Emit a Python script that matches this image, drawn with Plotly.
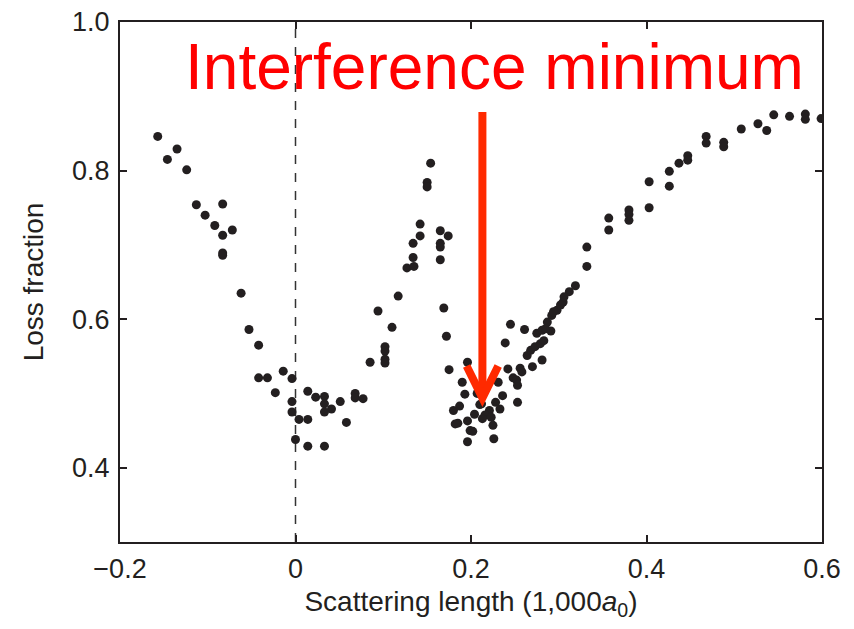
import plotly.graph_objects as go

# Scattering length (units of 1,000 a0)
scattering_length = [
    -0.157, -0.135, -0.146, -0.124, -0.113, -0.083, -0.103, -0.092, -0.072, -0.083,
    -0.083, -0.083, -0.062, -0.053, -0.042, -0.042, -0.032, -0.014, -0.004, -0.023,
    0.014, 0.023, 0.033, 0.033, 0.033, 0.041, 0.051, 0.068, 0.068, 0.077,
    -0.004, -0.004, 0.004, 0.014, 0.058, 0.000, 0.014, 0.033,
    0.094, 0.110, 0.102, 0.102, 0.102, 0.102, 0.085, 0.117, 0.154, 0.150,
    0.150, 0.142, 0.142, 0.134, 0.134, 0.127, 0.135, 0.165, 0.174, 0.165,
    0.165, 0.165, 0.169,
    0.172, 0.175, 0.196, 0.190, 0.193, 0.207, 0.231, 0.236, 0.228, 0.233,
    0.210, 0.180, 0.187, 0.221, 0.216, 0.223, 0.204, 0.213, 0.225, 0.182,
    0.185, 0.196, 0.199, 0.202, 0.196, 0.226, 0.242, 0.245, 0.239, 0.261,
    0.253, 0.248, 0.252, 0.253, 0.256, 0.258, 0.270, 0.281, 0.264, 0.268,
    0.273, 0.279, 0.283, 0.275, 0.281, 0.291, 0.287, 0.292, 0.298, 0.302,
    0.305, 0.312, 0.306, 0.294, 0.285, 0.212,
    0.319, 0.332, 0.332, 0.357, 0.357, 0.380, 0.380, 0.380, 0.403, 0.403,
    0.426, 0.426, 0.437, 0.447, 0.447, 0.468, 0.468, 0.488, 0.488, 0.508,
    0.527, 0.537, 0.545, 0.563, 0.581, 0.581, 0.599,
]

loss_fraction = [
    0.846, 0.829, 0.815, 0.801, 0.754, 0.755, 0.740, 0.726, 0.720, 0.713,
    0.689, 0.686, 0.635, 0.586, 0.565, 0.521, 0.521, 0.530, 0.520, 0.501,
    0.503, 0.495, 0.496, 0.486, 0.475, 0.479, 0.489, 0.500, 0.494, 0.493,
    0.489, 0.475, 0.465, 0.465, 0.461, 0.438, 0.429, 0.429,
    0.611, 0.589, 0.563, 0.557, 0.546, 0.541, 0.542, 0.631, 0.810, 0.784,
    0.778, 0.728, 0.712, 0.702, 0.683, 0.669, 0.671, 0.719, 0.712, 0.702,
    0.697, 0.680, 0.615,
    0.577, 0.532, 0.542, 0.515, 0.499, 0.500, 0.515, 0.497, 0.488, 0.479,
    0.485, 0.477, 0.483, 0.477, 0.471, 0.468, 0.472, 0.466, 0.457, 0.459,
    0.460, 0.463, 0.450, 0.449, 0.435, 0.439, 0.533, 0.593, 0.568, 0.586,
    0.488, 0.521, 0.518, 0.511, 0.534, 0.529, 0.536, 0.545, 0.551, 0.558,
    0.563, 0.567, 0.571, 0.581, 0.585, 0.584, 0.596, 0.605, 0.612, 0.619,
    0.623, 0.637, 0.630, 0.610, 0.587, 0.486,
    0.645, 0.697, 0.671, 0.736, 0.720, 0.747, 0.741, 0.733, 0.785, 0.750,
    0.799, 0.779, 0.810, 0.820, 0.814, 0.846, 0.837, 0.838, 0.832, 0.856,
    0.863, 0.854, 0.875, 0.873, 0.876, 0.869, 0.870,
]

x_tick_values = [-0.2, 0.0, 0.2, 0.4, 0.6]
x_tick_labels = ["\u22120.2", "0", "0.2", "0.4", "0.6"]
y_tick_values = [0.4, 0.6, 0.8, 1.0]
y_tick_labels = ["0.4", "0.6", "0.8", "1.0"]

annotation_text = "Interference minimum"
arrow_x = 0.213
arrow_top = 0.879
arrow_tip = 0.494
arrow_wing_dx = 0.018
arrow_wing_y = 0.537

FONT = "Liberation Sans, Arial, Helvetica, sans-serif"
AXIS_COLOR = "#231f20"
ARROW_COLOR = "#ff2a00"

fig = go.Figure()
fig.add_trace(go.Scatter(
    x=scattering_length, y=loss_fraction, mode="markers",
    marker=dict(size=9, color="#231f20", line=dict(width=0)),
    showlegend=False, hoverinfo="x+y",
))

# dashed vertical line at zero scattering length
fig.add_shape(type="line", xref="x", yref="paper", x0=0, x1=0, y0=0, y1=1,
              line=dict(color="#333333", width=1.5, dash="dash"), layer="below")

# red arrow
fig.add_shape(type="line", xref="x", yref="y", x0=arrow_x, x1=arrow_x,
              y0=arrow_top, y1=arrow_tip + 0.01,
              line=dict(color=ARROW_COLOR, width=8))
fig.add_shape(type="path", xref="x", yref="y",
              path=f"M {arrow_x - arrow_wing_dx},{arrow_wing_y} L {arrow_x},{arrow_tip} L {arrow_x + arrow_wing_dx},{arrow_wing_y}",
              line=dict(color=ARROW_COLOR, width=8), fillcolor="rgba(0,0,0,0)")

fig.add_annotation(x=0.227, y=0.940, xref="x", yref="y", text=annotation_text,
                   showarrow=False, font=dict(family=FONT, size=64, color="#ff0000"),
                   xanchor="center", yanchor="middle")

axis_common = dict(
    showline=True, linecolor=AXIS_COLOR, linewidth=2, mirror="ticks",
    ticks="inside", ticklen=7, tickwidth=1.5, tickcolor=AXIS_COLOR,
    showgrid=False, zeroline=False, automargin=False, ticklabeloverflow="allow",
    tickfont=dict(family=FONT, size=27, color="#231f20"),
)

fig.update_xaxes(range=[-0.2, 0.6], tickvals=x_tick_values, ticktext=x_tick_labels,
                 title=dict(text="Scattering length (1,000<i>a</i><sub>0</sub>)",
                            font=dict(family=FONT, size=28, color="#231f20"), standoff=8),
                 ticklabelstandoff=2, **axis_common)
fig.update_yaxes(range=[0.3, 1.0], tickvals=y_tick_values, ticktext=y_tick_labels,
                 title=dict(text="Loss fraction",
                            font=dict(family=FONT, size=28, color="#231f20"), standoff=20),
                 ticklabelstandoff=3, **axis_common)

# the page body adds an 8 px offset, so the figure is sized to fit the window
fig.update_layout(
    width=846, height=621,
    margin=dict(l=112, r=32, t=14, b=87),
    paper_bgcolor="white", plot_bgcolor="white",
    font=dict(family=FONT),
)

fig.write_html("out.html")
